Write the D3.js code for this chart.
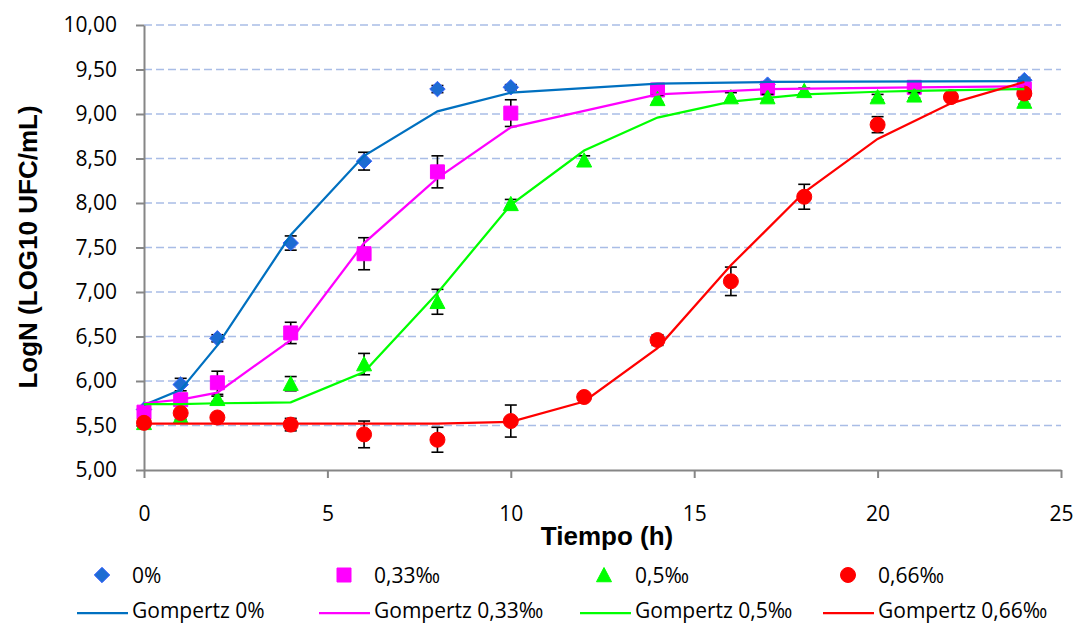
<!DOCTYPE html>
<html><head><meta charset="utf-8">
<script src="https://cdn.jsdelivr.net/npm/d3@7"></script>
<style>body{margin:0;background:#fff}svg{display:block}</style>
</head><body>
<svg id="c" width="1077" height="625"></svg>
<script>
// ---- data ----
const seriesNames = ["0%", "0,33‰", "0,5‰", "0,66‰"];
const fitNames = ["Gompertz 0%", "Gompertz 0,33‰", "Gompertz 0,5‰", "Gompertz 0,66‰"];

const t0 = [0, 1, 2, 4, 6, 8, 10, 17, 24];
const v0 = [5.68, 5.96, 6.48, 7.55, 8.47, 9.28, 9.30, 9.33, 9.38];
const e0 = [0.03, 0.07, 0.04, 0.08, 0.10, 0.04, 0.03, 0.03, 0.03];
const g0 = [5.73, 5.90, 6.40, 7.64, 8.53, 9.03, 9.24, 9.34, 9.36, 9.37];
const gt0 = [0, 1, 2, 4, 6, 8, 10, 14, 17, 24];

const t1 = [0, 1, 2, 4, 6, 8, 10, 14, 17, 21, 24];
const v1 = [5.65, 5.79, 5.98, 6.54, 7.43, 8.35, 9.01, 9.27, 9.29, 9.30, 9.28];
const e1 = [0.04, 0.06, 0.13, 0.12, 0.18, 0.18, 0.15, 0.03, 0.03, 0.03, 0.03];
const g1 = [5.75, 5.79, 5.87, 6.46, 7.55, 8.28, 8.85, 9.22, 9.28, 9.30, 9.31];

const t2 = [0, 1, 2, 4, 6, 8, 10, 12, 14, 16, 17, 18, 20, 21, 24];
const v2 = [5.53, 5.60, 5.80, 5.97, 6.19, 6.89, 7.99, 8.48, 9.17, 9.19, 9.19, 9.26, 9.19, 9.21, 9.14];
const e2 = [0.02, 0.03, 0.03, 0.08, 0.12, 0.14, 0.05, 0.05, 0.04, 0.05, 0.03, 0.03, 0.03, 0.03, 0.03];
const g2 = [5.74, 5.74, 5.75, 5.76, 6.10, 6.99, 7.98, 8.59, 8.96, 9.14, 9.18, 9.22, 9.25, 9.26, 9.28];

const t3 = [0, 1, 2, 4, 6, 8, 10, 12, 14, 16, 18, 20, 22, 24];
const v3 = [5.53, 5.64, 5.59, 5.51, 5.40, 5.34, 5.55, 5.82, 6.46, 7.12, 8.07, 8.88, 9.19, 9.23];
const e3 = [0.02, 0.03, 0.03, 0.07, 0.15, 0.14, 0.18, 0.03, 0.06, 0.16, 0.14, 0.09, 0.03, 0.03];
const g3 = [5.52, 5.52, 5.52, 5.52, 5.52, 5.52, 5.54, 5.77, 6.37, 7.30, 8.12, 8.72, 9.12, 9.36];

const xTicks = [0, 5, 10, 15, 20, 25];
const yTicks = [5, 5.5, 6, 6.5, 7, 7.5, 8, 8.5, 9, 9.5, 10];
const xTitle = "Tiempo (h)";
const yTitle = "LogN (LOG10 UFC/mL)";

// ---- setup ----
const svg = d3.select("#c");
const x = d3.scaleLinear().domain([0, 25]).range([144, 1061]);
const y = d3.scaleLinear().domain([5, 10]).range([470, 25]);
const tickFont = "'Open Sans', 'Noto Sans', sans-serif";
const boldFont = "'Liberation Sans', Arial, sans-serif";

// custom marker types
const diamond = {draw(c, s) { const r = Math.sqrt(s) / 2; c.moveTo(0, -r); c.lineTo(r, 0); c.lineTo(0, r); c.lineTo(-r, 0); c.closePath(); }};
const square = {draw(c, s) { const r = Math.sqrt(s) / 2; c.rect(-r, -r, 2 * r, 2 * r); }};
const triangle = {draw(c, s) { const r = Math.sqrt(s) / 2; c.moveTo(0, -r); c.lineTo(r, r * 0.9); c.lineTo(-r, r * 0.9); c.closePath(); }};
const circle = {draw(c, s) { const r = Math.sqrt(s) / 2; c.moveTo(r, 0); c.arc(0, 0, r, 0, 2 * Math.PI); }};

const series = [
  {name: seriesNames[0], t: t0, v: v0, e: e0, type: diamond, size: 240, fill: "#1d6cd2", stroke: "#3a62ff", line: "#0070c0", gt: gt0, g: g0, fit: fitNames[0]},
  {name: seriesNames[1], t: t1, v: v1, e: e1, type: square, size: 196, fill: "#ff00ff", stroke: "#ff00ff", line: "#ff00ff", gt: t1, g: g1, fit: fitNames[1]},
  {name: seriesNames[2], t: t2, v: v2, e: e2, type: triangle, size: 225, fill: "#00ff00", stroke: "#00ff00", line: "#00ff00", gt: t2, g: g2, fit: fitNames[2]},
  {name: seriesNames[3], t: t3, v: v3, e: e3, type: circle, size: 225, fill: "#ff0000", stroke: "#ff0000", line: "#ff0000", gt: t3, g: g3, fit: fitNames[3]}
];

// gridlines
svg.append("g").selectAll("line").data(yTicks.filter(d => d > 5)).join("line")
  .attr("x1", x(0)).attr("x2", x(25)).attr("y1", d => y(d)).attr("y2", d => y(d))
  .attr("stroke", "#a9bde6").attr("stroke-width", 1.3).attr("stroke-dasharray", "8,4");

// axes
const fmt = d => d.toFixed(2).replace(".", ",");
const gy = svg.append("g").attr("transform", `translate(${x(0)},0)`)
  .call(d3.axisLeft(y).tickValues(yTicks).tickFormat(fmt).tickSize(8).tickSizeOuter(0).tickPadding(19));
const gx = svg.append("g").attr("transform", `translate(0,${y(5)})`)
  .call(d3.axisBottom(x).tickValues(xTicks).tickFormat(d3.format("d")).tickSize(8).tickSizeOuter(0).tickPadding(28));
[gy, gx].forEach(g => {
  g.select(".domain").attr("stroke", "#868686").attr("stroke-width", 2);
  g.selectAll(".tick line").attr("stroke", "#868686").attr("stroke-width", 2);
  g.selectAll(".tick text").attr("fill", "#000").style("font-family", tickFont).style("font-size", "21px");
});

// axis titles
svg.append("text").attr("x", 607).attr("y", 545).attr("text-anchor", "middle")
  .style("font-family", boldFont).style("font-weight", "bold").style("font-size", "26px").text(xTitle);
svg.append("text").attr("transform", "translate(37,247) rotate(-90)").attr("text-anchor", "middle")
  .style("font-family", boldFont).style("font-weight", "bold").style("font-size", "26px").text(yTitle);

// error bars + markers
series.forEach(s => {
  const pts = s.t.map((t, i) => ({t, v: s.v[i], e: s.e[i]}));
  const g = svg.append("g");
  const eb = g.append("g").attr("stroke", "#000").attr("stroke-width", 1.6);
  pts.forEach(p => {
    const cx = x(p.t), y1 = y(p.v - p.e), y2 = y(p.v + p.e);
    eb.append("line").attr("x1", cx).attr("x2", cx).attr("y1", y1).attr("y2", y2);
    eb.append("line").attr("x1", cx - 6).attr("x2", cx + 6).attr("y1", y1).attr("y2", y1);
    eb.append("line").attr("x1", cx - 6).attr("x2", cx + 6).attr("y1", y2).attr("y2", y2);
  });
  g.selectAll("path").data(pts).join("path")
    .attr("d", d3.symbol().type(s.type).size(s.size))
    .attr("transform", p => `translate(${x(p.t)},${y(p.v)})`)
    .attr("fill", s.fill).attr("stroke", s.stroke).attr("stroke-width", 1);
});

// fitted lines
const lineGen = d3.line().x(d => x(d[0])).y(d => y(d[1]));
series.forEach(s => {
  svg.append("path").datum(s.gt.map((t, i) => [t, s.g[i]]))
    .attr("d", lineGen).attr("fill", "none").attr("stroke", s.line).attr("stroke-width", 2.25);
});

// legend
const legX = [102, 344, 604, 848];
const legTextX = [132, 374, 635, 878];
const leg = svg.append("g").style("font-family", tickFont).style("font-size", "21px");
series.forEach((s, i) => {
  leg.append("path").attr("d", d3.symbol().type(s.type).size(s.size))
    .attr("transform", `translate(${legX[i]},575)`).attr("fill", s.fill).attr("stroke", s.stroke);
  leg.append("text").attr("x", legTextX[i]).attr("y", 575).attr("dy", "0.36em").text(s.name);
  leg.append("line").attr("x1", legTextX[i] - 55).attr("x2", legTextX[i] - 4).attr("y1", 613).attr("y2", 613)
    .attr("stroke", s.line).attr("stroke-width", 2.25);
  leg.append("text").attr("x", legTextX[i]).attr("y", 610.5).attr("dy", "0.36em").text(s.fit);
});
</script>
</body></html>
